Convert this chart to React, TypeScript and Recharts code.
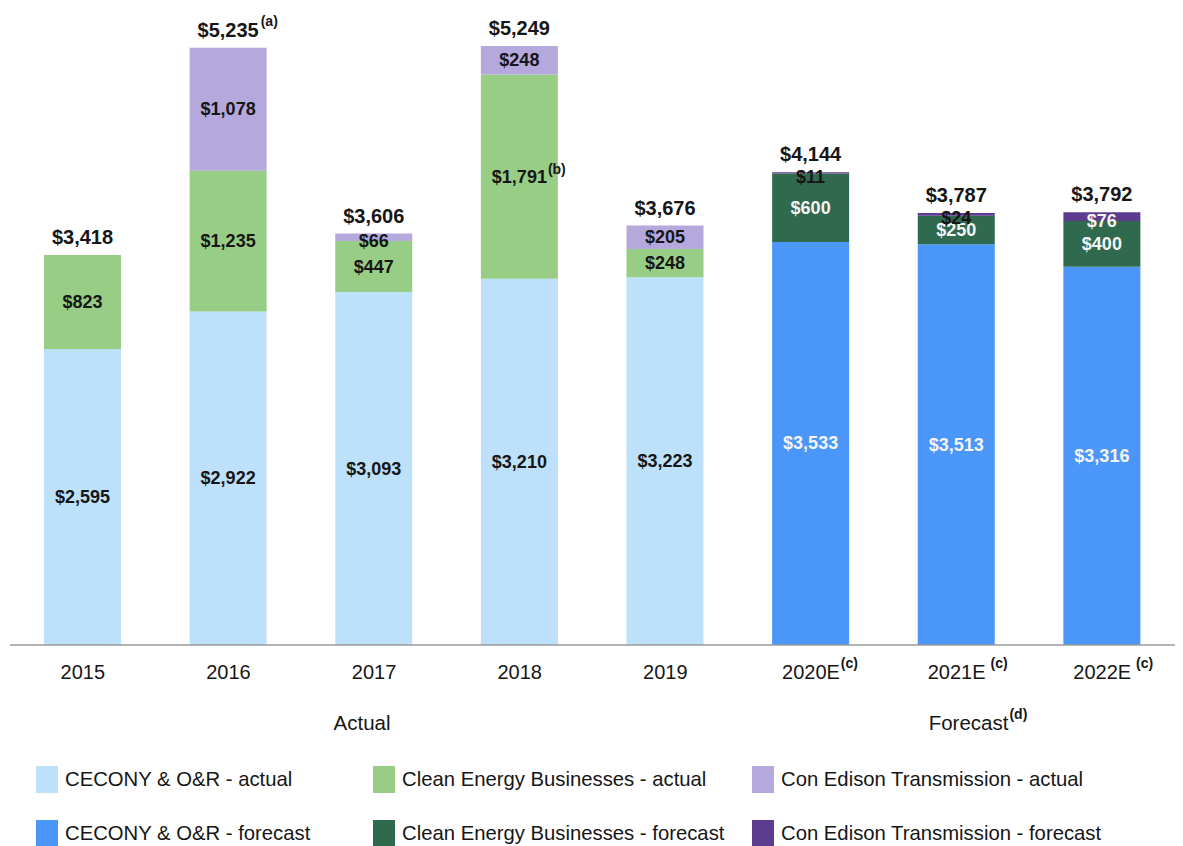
import React from 'react';
import { BarChart, Bar, XAxis, YAxis, LabelList } from 'recharts';

const years = ['2015', '2016', '2017', '2018', '2019', '2020E', '2021E', '2022E'];
const yearNotes = ['', '', '', '', '', '(c)', '(c)', '(c)'];

const ceconyActual = [2595, 2922, 3093, 3210, 3223, null, null, null];
const cleanActual = [823, 1235, 447, 1791, 248, null, null, null];
const cetActual = [null, 1078, 66, 248, 205, null, null, null];
const ceconyForecast = [null, null, null, null, null, 3533, 3513, 3316];
const cleanForecast = [null, null, null, null, null, 600, 250, 400];
const cetForecast = [null, null, null, null, null, 11, 24, 76];

const totals = [3418, 5235, 3606, 5249, 3676, 4144, 3787, 3792];
const totalNotes = ['', '(a)', '', '', '', '', '', ''];
const cleanActualNotes = ['', '', '', '(b)', '', '', '', ''];

// group captions under the year ticks
const groupCaptions = [
  { at: '2017', text: 'Actual', note: '' },
  { at: '2021E', text: 'Forecast', note: '(d)' },
];

const seriesKeys = ['cecA', 'ceA', 'cetA', 'cecF', 'ceF', 'cetF'];
const seriesValues = [ceconyActual, cleanActual, cetActual, ceconyForecast, cleanForecast, cetForecast];
const seriesNames = [
  'CECONY & O&R - actual',
  'Clean Energy Businesses - actual',
  'Con Edison Transmission - actual',
  'CECONY & O&R - forecast',
  'Clean Energy Businesses - forecast',
  'Con Edison Transmission - forecast',
];
const seriesColors = ['#bde0fb', '#98cd85', '#b4a8dd', '#4a96f9', '#2f6a4e', '#5d3b8e'];

const FONT = '"Liberation Sans", Arial, sans-serif';
const DARK = '#161616';

if (typeof document !== 'undefined') {
  document.body.style.margin = '0';
  document.body.style.overflow = 'hidden';
}

const chartData = years.map((year, i) => {
  const row: any = { year };
  seriesKeys.forEach((k, s) => {
    row[k] = seriesValues[s][i];
  });
  return row;
});

let ctx: CanvasRenderingContext2D | null = null;
const measure = (text: string, font: string) => {
  if (!ctx) ctx = document.createElement('canvas').getContext('2d');
  if (!ctx) return text.length * 10;
  ctx.font = font;
  return ctx.measureText(text).width;
};

const money = (v: number) => '$' + v.toLocaleString('en-US');

const isTop = (s: number, i: number) => {
  if (seriesValues[s][i] == null) return false;
  for (let t = s + 1; t < seriesValues.length; t++) {
    if (seriesValues[t][i] != null) return false;
  }
  return true;
};

// LabelList is keyed on "year" so the real row index can be found
const makeLabel = (s: number) => (props: any) => {
  const { x, y, width, height, value } = props;
  const index = years.indexOf(value);
  if (index < 0) return null;
  const v = seriesValues[s][index];
  if (v == null) return null;
  const cx = x + width / 2;
  const forecast = s >= 3;
  const h = Math.abs(height);
  const color = forecast && h >= 5 ? '#f4f4f4' : DARK;
  const shift = h < 12 ? 4 : 0;
  const segText = money(v);
  const segNote = s === 1 ? cleanActualNotes[index] : '';
  const segW = measure(segText, `bold 18px ${FONT}`);
  const items = [
    <text key="seg" x={cx} y={y + height / 2 + 6 + shift} textAnchor="middle" fontSize={18} fontWeight="bold" fill={color} fontFamily={FONT}>
      {segText}
    </text>,
  ];
  if (segNote) {
    items.push(
      <text key="segn" x={cx + segW / 2 + 1} y={y + height / 2 - 3} fontSize={14} fontWeight="bold" fill={color} fontFamily={FONT}>
        {segNote}
      </text>
    );
  }
  if (isTop(s, index)) {
    const t = money(totals[index]);
    const w = measure(t, `bold 20px ${FONT}`);
    items.push(
      <text key="tot" x={cx} y={y - 11} textAnchor="middle" fontSize={20} fontWeight="bold" fill={DARK} fontFamily={FONT}>
        {t}
      </text>
    );
    if (totalNotes[index]) {
      items.push(
        <text key="totn" x={cx + w / 2 + 2} y={y - 22} fontSize={14} fontWeight="bold" fill={DARK} fontFamily={FONT}>
          {totalNotes[index]}
        </text>
      );
    }
  }
  return <g>{items}</g>;
};

const YearTick = (props: any) => {
  const { x, payload } = props;
  const baseY = 645;
  const label = payload.value as string;
  const note = yearNotes[years.indexOf(label)] || '';
  const w = measure(label, `20px ${FONT}`);
  const cap = groupCaptions.find((g) => g.at === label);
  let capEl = null;
  if (cap) {
    const cw = measure(cap.text, `20.5px ${FONT}`);
    const cx = label === '2017' ? x - 12 : x + 12;
    capEl = (
      <g>
        <text x={cx} y={baseY + 85} textAnchor="middle" fontSize={20.5} fill={DARK} fontFamily={FONT}>
          {cap.text}
        </text>
        {cap.note && (
          <text x={cx + cw / 2 + 1} y={baseY + 74} fontSize={14} fontWeight="bold" fill={DARK} fontFamily={FONT}>
            {cap.note}
          </text>
        )}
      </g>
    );
  }
  return (
    <g>
      <text x={x} y={baseY + 34} textAnchor="middle" fontSize={20} fill={DARK} fontFamily={FONT}>
        {label}
      </text>
      {note && (
        <text x={x + w / 2 + (label === '2020E' ? 1 : 5)} y={baseY + 23} fontSize={14} fontWeight="bold" fill={DARK} fontFamily={FONT}>
          {note}
        </text>
      )}
      {capEl}
    </g>
  );
};

const legendCols = [36, 373, 752];
const legendRows = [766, 820];

const App = () => {
  return (
    <div style={{ position: 'relative', width: 1183, height: 846, background: '#fff', fontFamily: FONT }}>
      <BarChart
        width={1183}
        height={760}
        data={chartData}
        margin={{ top: 17, right: 8, left: 10, bottom: 0 }}
        barSize={77}
      >
        <YAxis hide domain={[0, 5504]} />
        <XAxis
          dataKey="year"
          height={115}
          interval={0}
          tickLine={false}
          axisLine={{ stroke: '#9a9a9a', strokeWidth: 1.5 }}
          tick={<YearTick />}
        />
        {seriesKeys.map((k, s) => (
          <Bar key={k} dataKey={k} stackId="a" fill={seriesColors[s]} name={seriesNames[s]} isAnimationActive={false}>
            <LabelList dataKey="year" content={makeLabel(s)} />
          </Bar>
        ))}
      </BarChart>
      {seriesKeys.map((k, s) => {
        const col = s % 3;
        const row = Math.floor(s / 3);
        return (
          <div
            key={k}
            style={{ position: 'absolute', left: legendCols[col], top: legendRows[row], display: 'flex', alignItems: 'center', height: 27 }}
          >
            <div style={{ width: 22, height: 27, background: seriesColors[s] }} />
            <span style={{ marginLeft: 7, fontSize: 20.3, color: DARK, whiteSpace: 'nowrap' }}>{seriesNames[s]}</span>
          </div>
        );
      })}
    </div>
  );
};

export default App;
